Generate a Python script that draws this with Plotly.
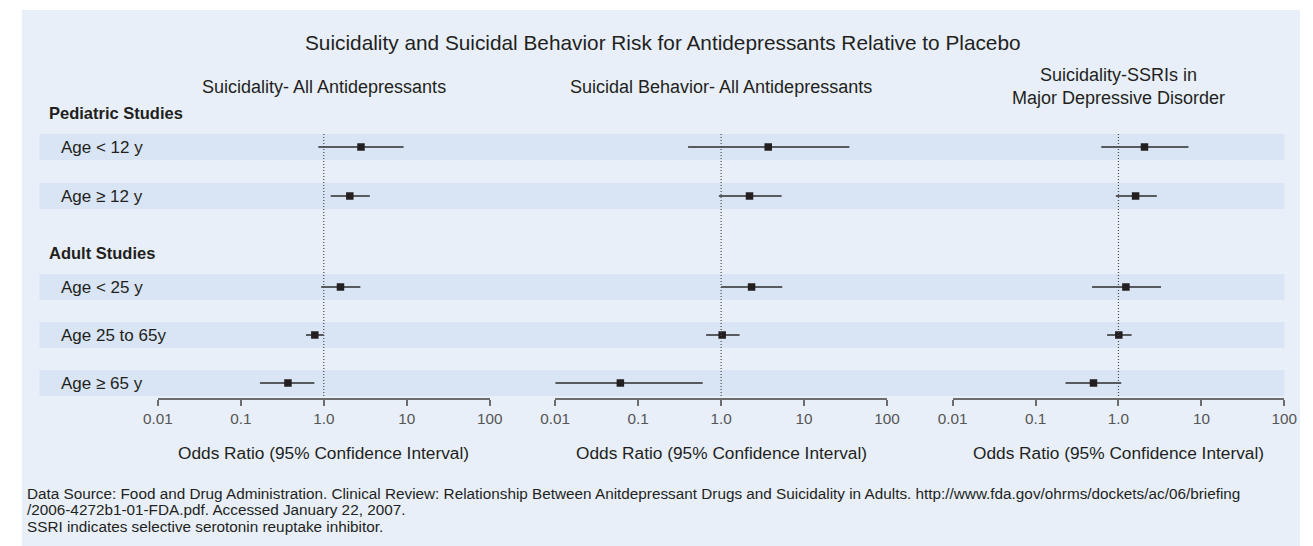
import plotly.graph_objects as go

# ---- data -------------------------------------------------------------
panels = [
    "Suicidality- All Antidepressants",
    "Suicidal Behavior- All Antidepressants",
    "Suicidality-SSRIs in<br>Major Depressive Disorder",
]
groups = ["Pediatric Studies", "Adult Studies"]
age_labels = ["Age < 12 y", "Age ≥ 12 y", "Age < 25 y", "Age 25 to 65y", "Age ≥ 65 y"]

# odds ratio, lower and upper 95% CI per panel (rows follow age_labels)
or_all_suicidality = [2.81, 2.06, 1.59, 0.78, 0.37]
lo_all_suicidality = [0.86, 1.21, 0.93, 0.61, 0.17]
hi_all_suicidality = [9.16, 3.59, 2.76, 1.00, 0.77]

or_all_behavior = [3.70, 2.20, 2.33, 1.03, 0.061]
lo_all_behavior = [0.40, 0.94, 1.00, 0.66, 0.010]
hi_all_behavior = [35.2, 5.36, 5.46, 1.67, 0.60]

or_ssri_mdd = [2.06, 1.61, 1.23, 1.01, 0.50]
lo_ssri_mdd = [0.62, 0.93, 0.48, 0.73, 0.23]
hi_ssri_mdd = [6.98, 2.90, 3.26, 1.44, 1.08]

tick_vals = [0.01, 0.1, 1, 10, 100]
tick_text = ["0.01", "0.1", "1.0", "10", "100"]
axis_title = "Odds Ratio (95% Confidence Interval)"

title = "Suicidality and Suicidal Behavior Risk for Antidepressants Relative to Placebo"
footer = [
    "Data Source: Food and Drug Administration. Clinical Review: Relationship Between Anitdepressant Drugs and Suicidality in Adults. http://www.fda.gov/ohrms/dockets/ac/06/briefing",
    "/2006-4272b1-01-FDA.pdf. Accessed January 22, 2007.",
    "SSRI indicates selective serotonin reuptake inhibitor.",
]

# ---- layout geometry (pixels) -------------------------------------------
W, H = 1313, 546
FONT = "Liberation Sans, Arial, Helvetica, sans-serif"
INK = "#231f20"
BG = "#e8eff9"
BAND = "#d9e5f5"

panel_px = [(146, 485), (552, 891), (958, 1297)]
axis_y = 398                       # pixel row of the x axes
row_y = [147, 196, 287, 335, 383]  # pixel centre of each age row
group_y = [113, 253]
band_half = 13
band_x = (25, 1297)


def fx(px):
    return px / W


def fy(py):
    return 1 - py / H


series = [
    (or_all_suicidality, lo_all_suicidality, hi_all_suicidality),
    (or_all_behavior, lo_all_behavior, hi_all_behavior),
    (or_ssri_mdd, lo_ssri_mdd, hi_ssri_mdd),
]

fig = go.Figure()
shapes = []
annotations = []

# page background
shapes.append(dict(type="rect", xref="paper", yref="paper", x0=fx(7), x1=1, y0=0, y1=fy(10),
                   fillcolor=BG, line_width=0, layer="below"))
# row bands
for yv in row_y:
    shapes.append(dict(type="rect", xref="paper", yref="y", x0=fx(band_x[0]), x1=fx(band_x[1]),
                       y0=yv - band_half, y1=yv + band_half, fillcolor=BAND, line_width=0, layer="below"))

for i, (ors, los, his) in enumerate(series):
    xa = "x" if i == 0 else f"x{i + 1}"
    # confidence interval segments
    xs, ys = [], []
    for lo, hi, yv in zip(los, his, row_y):
        xs += [lo, hi, None]
        ys += [yv, yv, None]
    fig.add_trace(go.Scatter(x=xs, y=ys, xaxis=xa, yaxis="y", mode="lines",
                             line=dict(color="#2b2b2b", width=1.5), hoverinfo="skip", showlegend=False))
    # point estimates
    fig.add_trace(go.Scatter(x=ors, y=row_y, xaxis=xa, yaxis="y", mode="markers",
                             marker=dict(symbol="square", size=7.5, color=INK, line_width=0),
                             showlegend=False))
    # reference line at odds ratio 1
    shapes.append(dict(type="line", xref=xa, yref="y", x0=1, x1=1, y0=row_y[0] - band_half, y1=axis_y,
                       line=dict(color="#4a4a4a", width=1.2, dash="1px,2px")))
    # panel heading
    cx = sum(panel_px[i]) / 2
    annotations.append(dict(text=panels[i], xref="paper", yref="paper", x=fx(cx),
                            y=fy(86.5), xanchor="center", yanchor="middle", showarrow=False,
                            font=dict(size=18, color=INK, family=FONT)))
    # axis title
    annotations.append(dict(text=axis_title, xref="paper", yref="paper", x=fx(cx), y=fy(453),
                            xanchor="center", yanchor="middle", showarrow=False,
                            font=dict(size=17.3, color=INK, family=FONT)))

# row labels and group headings
for lab, yv in zip(age_labels, row_y):
    annotations.append(dict(text=lab, xref="paper", yref="y", x=fx(45), y=yv, xanchor="left",
                            yanchor="middle", showarrow=False, font=dict(size=17, color=INK, family=FONT)))
for g, yv in zip(groups, group_y):
    annotations.append(dict(text=f"<b>{g}</b>", xref="paper", yref="y", x=fx(33), y=yv, xanchor="left",
                            yanchor="middle", showarrow=False, font=dict(size=16.5, color=INK, family=FONT)))

# main title
annotations.append(dict(text=title, xref="paper", yref="paper", x=fx(662), y=fy(43), xanchor="center",
                        yanchor="middle", showarrow=False, font=dict(size=20.8, color=INK, family=FONT)))

# footer
for k, line in enumerate(footer):
    annotations.append(dict(text=line, xref="paper", yref="paper", x=fx(10), y=fy(493 + 16.5 * k),
                            xanchor="left", yanchor="middle", showarrow=False,
                            font=dict(size=15.3, color=INK, family=FONT)))

axis_style = dict(type="log", range=[-2, 2], tickvals=tick_vals, ticktext=tick_text, showgrid=False,
                  zeroline=False, showline=True, linecolor="#6d6d6d", linewidth=1.5, ticks="outside",
                  ticklen=6, tickwidth=1.5, tickcolor="#6d6d6d", anchor="y",
                  tickfont=dict(size=15.3, color="#555555", family=FONT))

layout_axes = {}
for i, (a, b) in enumerate(panel_px):
    key = "xaxis" if i == 0 else f"xaxis{i + 1}"
    layout_axes[key] = dict(axis_style, domain=[fx(a), fx(b)])

fig.update_layout(
    width=W, height=H,
    margin=dict(l=0, r=0, t=0, b=0),
    paper_bgcolor="white", plot_bgcolor="rgba(0,0,0,0)",
    yaxis=dict(domain=[fy(axis_y), 1], range=[axis_y, 0], visible=False, fixedrange=True),
    shapes=shapes, annotations=annotations,
    **layout_axes,
)

# pin the figure to the page corner so no body margin or scrollbar shifts it
fig.write_html(
    "out.html",
    config={"displayModeBar": False},
    post_script="document.body.style.margin='0';document.body.style.overflow='hidden';",
)
